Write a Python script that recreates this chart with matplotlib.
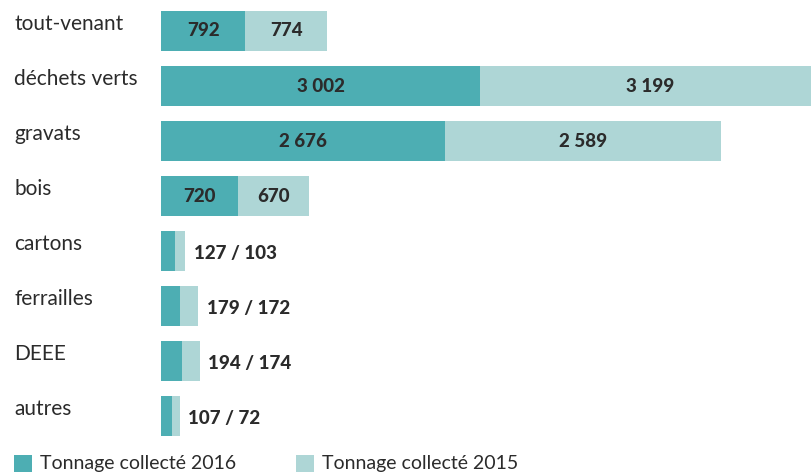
import matplotlib.pyplot as plt
from matplotlib.patches import Rectangle

categories = ['tout-venant', 'déchets verts', 'gravats', 'bois',
              'cartons', 'ferrailles', 'DEEE', 'autres']
tonnage_2016 = [792, 3002, 2676, 720, 127, 179, 194, 107]
tonnage_2015 = [774, 3199, 2589, 670, 103, 172, 174, 72]
legend_labels = ['Tonnage collecté 2016', 'Tonnage collecté 2015']

dark = '#4daeb3'
light = '#aed6d6'
txt = '#2b2b2b'

plt.rcParams['font.family'] = ['Lato', 'DejaVu Sans']

fig = plt.figure(figsize=(8.11, 4.72), dpi=100)
ax = fig.add_axes([0, 0, 1, 1])
ax.set_xlim(-1515, 6115)
ax.set_ylim(8.018, -0.5636)
ax.axis('off')

ys = range(len(categories))
h = 0.727
ax.barh(ys, tonnage_2016, height=h, color=dark, linewidth=0)
ax.barh(ys, tonnage_2015, left=tonnage_2016, height=h, color=light, linewidth=0)


def fmt(v):
    return f'{v:,}'.replace(',', ' ')


for i, (cat, a, b) in enumerate(zip(categories, tonnage_2016, tonnage_2015)):
    ax.text(-1383, i - 0.12, cat, ha='left', va='center', fontsize=15, color=txt)
    if a > 500:
        ax.text(a / 2, i, fmt(a), ha='center', va='center', fontsize=13.5,
                fontweight='black', color=txt)
        ax.text(a + b / 2, i, fmt(b), ha='center', va='center', fontsize=13.5,
                fontweight='black', color=txt)
    else:
        ax.annotate(f'{a} / {b}', (a + b, i), xytext=(6, -2), textcoords='offset points',
                    ha='left', va='center', fontsize=13.5, fontweight='black', color=txt)

# legend along the bottom edge
for x0, col, lab in [(14, dark, legend_labels[0]), (296, light, legend_labels[1])]:
    fig.patches.append(Rectangle((x0 / 811, 0), 18 / 811, 17 / 472,
                                 transform=fig.transFigure, color=col, linewidth=0))
    fig.text((x0 + 26) / 811, 9 / 472, lab, ha='left', va='center', fontsize=14, color=txt)

fig.savefig('out.png', dpi=100)
